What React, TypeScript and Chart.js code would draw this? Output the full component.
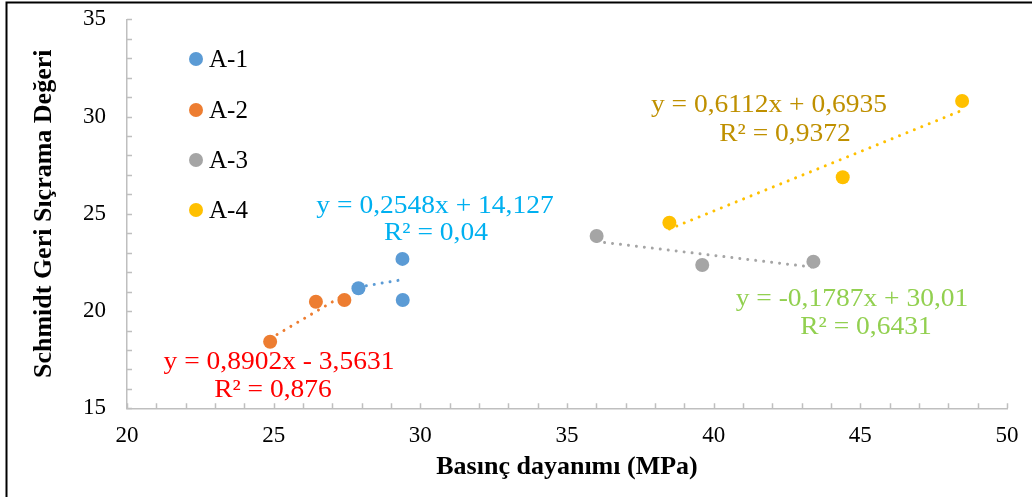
import React, { useEffect, useRef } from "react";
import { Chart, registerables } from "chart.js";

Chart.register(...registerables);

// ---- data ----
const seriesNames = ["A-1", "A-2", "A-3", "A-4"];
const a1X = [27.89, 29.39, 29.4];
const a1Y = [21.17, 22.68, 20.57];
const a2X = [24.88, 26.44, 27.41];
const a2Y = [18.42, 20.48, 20.57];
const a3X = [36.01, 39.61, 43.4];
const a3Y = [23.86, 22.37, 22.54];
const a4X = [38.49, 44.4, 48.47];
const a4Y = [24.54, 26.88, 30.8];
const trendSlopes = [0.2548, 0.8902, -0.1787, 0.6112];
const trendIntercepts = [14.127, -3.5631, 30.01, 0.6935];
const eqLabels = [
  "y = 0,2548x + 14,127",
  "y = 0,8902x - 3,5631",
  "y = -0,1787x + 30,01",
  "y = 0,6112x + 0,6935",
];
const r2Labels = ["R² = 0,04", "R² = 0,876", "R² = 0,6431", "R² = 0,9372"];
const xTicks = [20, 25, 30, 35, 40, 45, 50];
const yTicks = [15, 20, 25, 30, 35];
const xTitle = "Basınç dayanımı (MPa)";
const yTitle = "Schmidt Geri Sıçrama Değeri";

// ---- styles ----
const markerColors = ["#5B9BD5", "#ED7D31", "#A5A5A5", "#FFC000"];
const labelColors = ["#00B0F0", "#FF0000", "#92D050", "#BF9000"];
// label line centers in pixels [eqX, eqY, r2X, r2Y]
const labelPos = [
  [435, 206, 436, 233],
  [279, 362, 273, 390],
  [852, 299, 866, 327],
  [769, 105, 785, 134],
];
const FONT = "'Liberation Serif', 'Times New Roman', serif";

const xs = [a1X, a2X, a3X, a4X];
const ys = [a1Y, a2Y, a3Y, a4Y];

export default function App() {
  const ref = useRef<HTMLCanvasElement>(null);

  useEffect(() => {
    if (!ref.current) return;
    const pointSets: any[] = xs.map((xa, i) => ({
      type: "scatter",
      label: seriesNames[i],
      data: xa.map((x, j) => ({ x, y: ys[i][j] })),
      backgroundColor: markerColors[i],
      borderColor: markerColors[i],
      pointRadius: 7,
      pointHoverRadius: 7,
      borderWidth: 0,
      order: 2,
    }));
    const trendSets: any[] = xs.map((xa, i) => {
      const x0 = Math.min(...xa);
      const x1 = Math.max(...xa);
      return {
        type: "line",
        label: seriesNames[i] + " trend",
        data: [
          { x: x0, y: trendSlopes[i] * x0 + trendIntercepts[i] },
          { x: x1, y: trendSlopes[i] * x1 + trendIntercepts[i] },
        ],
        borderColor: markerColors[i],
        borderWidth: 3,
        borderDash: [0.01, 8],
        borderCapStyle: "round",
        pointRadius: 0,
        fill: false,
        order: 1,
      };
    });

    const overlay = {
      id: "overlay",
      afterDraw(chart: any) {
        const ctx = chart.ctx;
        const xScale = chart.scales.x;
        const yScale = chart.scales.y;
        const ca = chart.chartArea;
        ctx.save();
        // minor ticks
        ctx.strokeStyle = "#BFBFBF";
        ctx.lineWidth = 1.5;
        ctx.beginPath();
        for (let v = 20; v <= 50; v += 1) {
          const px = Math.round(xScale.getPixelForValue(v)) + 0.5;
          ctx.moveTo(px, ca.bottom);
          ctx.lineTo(px, ca.bottom - 5);
        }
        for (let v = 15; v <= 35; v += 1) {
          const py = Math.round(yScale.getPixelForValue(v)) + 0.5;
          ctx.moveTo(ca.left, py);
          ctx.lineTo(ca.left + 5, py);
        }
        ctx.stroke();

        // legend
        ctx.textBaseline = "middle";
        ctx.textAlign = "left";
        ctx.font = `25px ${FONT}`;
        const legY = [59, 110, 160, 210];
        seriesNames.forEach((n, i) => {
          ctx.fillStyle = markerColors[i];
          ctx.beginPath();
          ctx.arc(196, legY[i], 7, 0, Math.PI * 2);
          ctx.fill();
          ctx.fillStyle = "#000";
          ctx.fillText(n, 209, legY[i] + 1);
        });

        // trendline labels
        ctx.textAlign = "center";
        ctx.font = `25px ${FONT}`;
        labelPos.forEach((p, i) => {
          ctx.fillStyle = labelColors[i];
          const draw = (t: string, cx: number, cy: number) => {
            ctx.save();
            ctx.translate(cx, cy);
            ctx.scale(1.1, 1);
            ctx.fillText(t, 0, 0);
            ctx.restore();
          };
          draw(eqLabels[i], p[0], p[1]);
          draw(r2Labels[i], p[2], p[3]);
        });

        // outer frame (left & top)
        ctx.strokeStyle = "#000";
        ctx.lineWidth = 2;
        ctx.beginPath();
        ctx.moveTo(6.5, 497);
        ctx.lineTo(6.5, 2.5);
        ctx.lineTo(1032, 2.5);
        ctx.stroke();
        ctx.restore();
      },
    };

    const chart = new Chart(ref.current, {
      type: "scatter",
      data: { datasets: [...trendSets, ...pointSets] },
      options: {
        responsive: false,
        animation: false,
        layout: { padding: { top: 19.3, right: 25, bottom: 0, left: 0 } },
        plugins: {
          legend: { display: false },
          tooltip: { enabled: false },
        },
        scales: {
          x: {
            type: "linear",
            min: 20,
            max: 50,
            afterBuildTicks: (s: any) => {
              s.ticks = xTicks.map((v) => ({ value: v }));
            },
            afterFit: (s: any) => {
              s.height = 88.7;
              s.paddingLeft = 0;
              s.paddingRight = 0;
            },
            grid: { display: false, drawTicks: false },
            border: { display: true, color: "#BFBFBF", width: 1.5 },
            ticks: {
              padding: 14,
              color: "#000",
              font: { family: FONT, size: 23 },
            },
            title: {
              display: true,
              text: xTitle,
              color: "#000",
              font: { family: FONT, size: 26, weight: "bold" },
              padding: { top: 0, bottom: 14.4 },
            },
          },
          y: {
            type: "linear",
            min: 15,
            max: 35,
            afterBuildTicks: (s: any) => {
              s.ticks = yTicks.map((v) => ({ value: v }));
            },
            afterFit: (s: any) => {
              s.width = 127;
              s.paddingTop = 0;
              s.paddingBottom = 0;
            },
            grid: { display: false, drawTicks: false },
            border: { display: true, color: "#BFBFBF", width: 1.5 },
            ticks: {
              padding: 21,
              color: "#000",
              font: { family: FONT, size: 23 },
            },
            title: {
              display: true,
              text: yTitle,
              color: "#000",
              font: { family: FONT, size: 26, weight: "bold" },
              padding: { top: 28.4, bottom: 0 },
            },
          },
        },
      },
      plugins: [overlay],
    } as any);
    return () => chart.destroy();
  }, []);

  return (
    <div style={{ position: "absolute", left: 0, top: 0, width: 1032, height: 497, background: "#fff" }}>
      <canvas ref={ref} width={1032} height={497} style={{ display: "block" }} />
    </div>
  );
}
